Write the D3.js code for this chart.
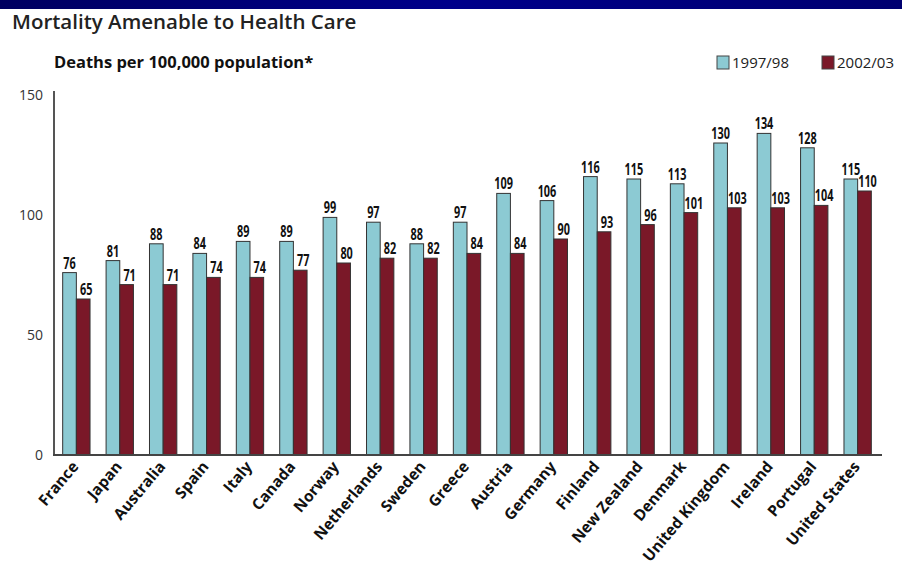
<!DOCTYPE html>
<html>
<head>
<meta charset="utf-8">
<script src="https://cdn.jsdelivr.net/npm/d3@7"></script>
<style>
  body { margin: 0; background: #fff; }
  svg { display: block; }
</style>
</head>
<body>
<script>
// chart data
const countries = ['France', 'Japan', 'Australia', 'Spain', 'Italy', 'Canada', 'Norway',
  'Netherlands', 'Sweden', 'Greece', 'Austria', 'Germany', 'Finland', 'New Zealand',
  'Denmark', 'United Kingdom', 'Ireland', 'Portugal', 'United States'];
const series = ['1997/98', '2002/03'];
const values1997 = [76, 81, 88, 84, 89, 89, 99, 97, 88, 97, 109, 106, 116, 115, 113, 130, 134, 128, 115];
const values2002 = [65, 71, 71, 74, 74, 77, 80, 82, 82, 84, 84, 90, 93, 96, 101, 103, 103, 104, 110];
const yTicks = [0, 50, 100, 150];

const width = 902;
const height = 574;
const colors = ['#8ccad3', '#7a1828'];

const svg = d3.select('body')
  .append('svg')
  .attr('width', width)
  .attr('height', height);

// navy banner at the top
const defs = svg.append('defs');
const grad = defs.append('linearGradient').attr('id', 'banner')
  .attr('x1', '0%').attr('x2', '100%');
grad.append('stop').attr('offset', '0%').attr('stop-color', '#000060');
grad.append('stop').attr('offset', '50%').attr('stop-color', '#00008a');
grad.append('stop').attr('offset', '100%').attr('stop-color', '#000070');
svg.append('rect').attr('x', 0).attr('y', 0).attr('width', width).attr('height', 9)
  .attr('fill', 'url(#banner)');

// titles
svg.append('text')
  .attr('x', 12).attr('y', 29)
  .attr('font-family', 'Open Sans')
  .attr('font-weight', 600)
  .attr('font-size', 20.5)
  .attr('fill', '#222')
  .text('Mortality Amenable to Health Care');

svg.append('text')
  .attr('x', 54).attr('y', 68)
  .attr('font-family', 'Open Sans')
  .attr('font-weight', 700)
  .attr('font-size', 16.5)
  .attr('fill', '#111')
  .text('Deaths per 100,000 population*');

// scales
const x0 = d3.scaleBand()
  .domain(countries)
  .range([54, 880])
  .paddingInner(0.37)
  .paddingOuter(0.2);

const x1 = d3.scaleBand()
  .domain(series)
  .range([0, x0.bandwidth()]);

const y = d3.scaleLinear()
  .domain([0, 150])
  .range([455, 95]);

// y axis labels
svg.selectAll('.ytick')
  .data(yTicks)
  .enter()
  .append('text')
  .attr('class', 'ytick')
  .attr('x', 43)
  .attr('y', d => y(d))
  .attr('dy', '0.35em')
  .attr('text-anchor', 'end')
  .attr('font-family', 'Open Sans')
  .attr('font-size', 14)
  .attr('fill', '#333')
  .text(d => d);

// bars
const rows = countries.map((c, i) => ({ country: c, vals: [values1997[i], values2002[i]] }));

const groups = svg.selectAll('.group')
  .data(rows)
  .enter()
  .append('g')
  .attr('class', 'group')
  .attr('transform', d => `translate(${x0(d.country)},0)`);

groups.selectAll('rect')
  .data(d => d.vals.map((v, j) => ({ key: series[j], value: v, j: j })))
  .enter()
  .append('rect')
  .attr('x', d => x1(d.key))
  .attr('y', d => y(d.value))
  .attr('width', x1.bandwidth())
  .attr('height', d => y(0) - y(d.value))
  .attr('fill', d => colors[d.j])
  .attr('stroke', '#333')
  .attr('stroke-width', 1);

// value labels, squeezed to look like the narrow bold face of the original
groups.selectAll('.val')
  .data(d => d.vals.map((v, j) => ({ key: series[j], value: v, j: j })))
  .enter()
  .append('text')
  .attr('class', 'val')
  .attr('transform', d => `translate(${x1(d.key) + x1.bandwidth() / 2 + d.j * 3},${y(d.value) - 4}) scale(0.68,1)`)
  .attr('text-anchor', 'middle')
  .attr('font-family', 'Open Sans')
  .attr('font-weight', 700)
  .attr('font-size', 16)
  .attr('fill', '#111')
  .text(d => d.value);

// axes lines
svg.append('line')
  .attr('x1', 54).attr('x2', 54)
  .attr('y1', 91).attr('y2', y(0))
  .attr('stroke', '#555').attr('stroke-width', 2);
svg.append('line')
  .attr('x1', 53).attr('x2', 882)
  .attr('y1', y(0)).attr('y2', y(0))
  .attr('stroke', '#444').attr('stroke-width', 2);

// country labels
svg.selectAll('.country')
  .data(countries)
  .enter()
  .append('text')
  .attr('class', 'country')
  .attr('transform', d => `translate(${x0(d) + x0.bandwidth() / 2 + 3},${y(0) + 12}) rotate(-50)`)
  .attr('text-anchor', 'end')
  .attr('font-family', 'Open Sans')
  .attr('font-weight', 700)
  .attr('font-size', 15.5)
  .attr('fill', '#111')
  .text(d => d);

// legend
const legend = svg.append('g').attr('class', 'legend');
const legendX = [717, 822];
legend.selectAll('rect')
  .data(series)
  .enter()
  .append('rect')
  .attr('x', (d, i) => legendX[i])
  .attr('y', 56)
  .attr('width', 12)
  .attr('height', 13)
  .attr('fill', (d, i) => colors[i])
  .attr('stroke', '#444')
  .attr('stroke-width', 1);
legend.selectAll('text')
  .data(series)
  .enter()
  .append('text')
  .attr('x', (d, i) => legendX[i] + 15)
  .attr('y', 68)
  .attr('font-family', 'Open Sans')
  .attr('font-size', 15)
  .attr('fill', '#222')
  .text(d => d);
</script>
</body>
</html>
